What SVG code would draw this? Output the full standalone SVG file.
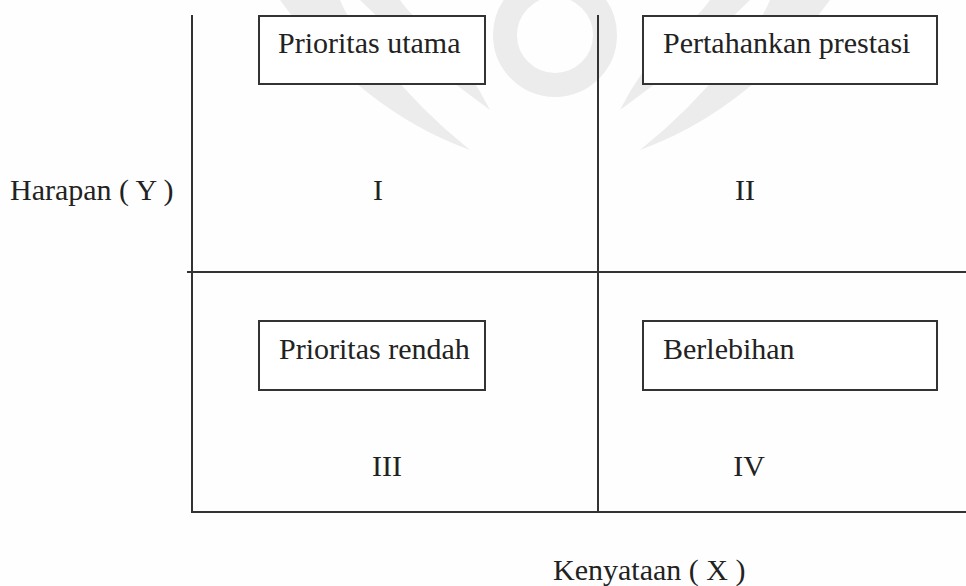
<svg xmlns="http://www.w3.org/2000/svg" width="966" height="586" viewBox="0 0 966 586">
  <style>
    .ln { stroke: #333; stroke-width: 2; fill: none; }
    .box { stroke: #333; stroke-width: 2; fill: #fff; }
    .t { font-size: 30px; fill: #222; }
    .wm { fill: #ececec; }
  </style>
  <rect width="966" height="586" fill="#fefefe"/>
  <g id="watermark">
    <circle cx="555" cy="35" r="50" fill="none" stroke="#ececec" stroke-width="24"/>
    <path class="wm" d="M360 0 Q420 60 490 110 Q470 70 440 40 Q410 15 400 0 Z"/>
    <path class="wm" d="M750 0 Q690 60 620 110 Q640 70 670 40 Q700 15 710 0 Z"/>
    <path class="wm" d="M280 0 Q360 110 470 150 Q420 110 380 60 Q350 25 340 0 Z"/>
    <path class="wm" d="M830 0 Q750 110 640 150 Q690 110 730 60 Q760 25 770 0 Z"/>
  </g>
  <g id="axes">
    <line class="ln" x1="192" y1="15" x2="192" y2="513"/>
    <line class="ln" x1="598" y1="15" x2="598" y2="513"/>
    <line class="ln" x1="187" y1="272" x2="966" y2="272"/>
    <line class="ln" x1="191" y1="512" x2="966" y2="512"/>
  </g>
  <g font-family="Liberation Serif, serif">
    <g id="q1">
      <rect class="box" x="259" y="16" width="226" height="68"/>
      <text class="t" x="278" y="53">Prioritas utama</text>
      <text class="t" x="378" y="200" text-anchor="middle">I</text>
    </g>
    <g id="q2">
      <rect class="box" x="643" y="16" width="294" height="68"/>
      <text class="t" x="663" y="53">Pertahankan prestasi</text>
      <text class="t" x="745" y="200" text-anchor="middle">II</text>
    </g>
    <g id="q3">
      <rect class="box" x="259" y="321" width="226" height="69"/>
      <text class="t" x="279" y="359">Prioritas rendah</text>
      <text class="t" x="387" y="476" text-anchor="middle">III</text>
    </g>
    <g id="q4">
      <rect class="box" x="643" y="321" width="294" height="69"/>
      <text class="t" x="663" y="359">Berlebihan</text>
      <text class="t" x="749" y="476" text-anchor="middle">IV</text>
    </g>
    <g id="labels">
      <text class="t" x="10" y="200">Harapan ( Y )</text>
      <text class="t" x="553" y="580">Kenyataan ( X )</text>
    </g>
  </g>
</svg>
